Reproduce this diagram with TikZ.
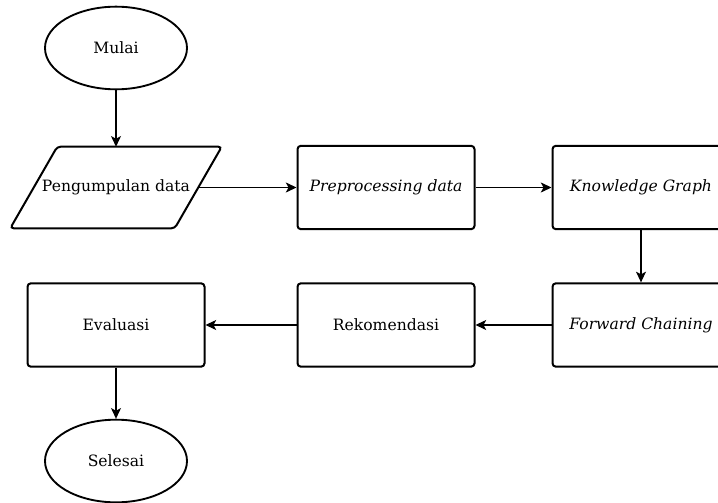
\documentclass[tikz,border=0pt]{standalone}
\usepackage{fontspec}
\setmainfont{DejaVu Serif}
\usetikzlibrary{shapes.geometric, arrows.meta}
\tikzset{process/.style={draw, line width=1.5pt, rounded corners=2.5pt, minimum width=132.75pt, minimum height=62.5pt, font=\fontsize{11.7}{14}\selectfont}}
\tikzset{terminal/.style={draw, ellipse, line width=1.4pt, minimum width=106.5pt, minimum height=62pt, font=\fontsize{11.7}{14}\selectfont}}
\tikzset{iobox/.style={minimum width=123pt, minimum height=60.75pt, font=\fontsize{11.7}{14}\selectfont}}
\tikzset{flow/.style={-{Stealth[length=8pt, width=7.5pt, inset=2pt]}, line width=0.9pt}}

\begin{document}
\begin{tikzpicture}[x=0.75pt, y=-0.75pt]
            \clip (0,0) rectangle (718,503);
            \node[terminal] (start) at (116,48) {Mulai};
            \node[iobox] (collect) at (116,187.5) {Pengumpulan data};
            \draw[line width=1.5pt, rounded corners=2.5pt] ([xshift=17.6pt]collect.north west) -- ([xshift=17.6pt]collect.north east) -- ([xshift=-17.6pt]collect.south east) -- ([xshift=-17.6pt]collect.south west) -- cycle;
            \node[process] (prep) at (386,187.5) {\textit{Preprocessing data}};
            \node[process] (kg) at (641,187.5) {\textit{Knowledge Graph}};
            \node[process] (fwd) at (641,325) {\textit{Forward Chaining}};
            \node[process] (rekom) at (386,325) {Rekomendasi};
            \node[process] (eval) at (116,325) {Evaluasi};
            \node[terminal] (finish) at (116,461) {Selesai};
            \draw[flow] (start) -- (collect.north);
            \draw[flow] (collect.east) -- (prep);
            \draw[flow] (prep) -- (kg);
            \draw[flow] (kg) -- (fwd);
            \draw[flow] (fwd) -- (rekom);
            \draw[flow] (rekom) -- (eval);
            \draw[flow] (eval) -- (finish);
        \end{tikzpicture}
\end{document}
